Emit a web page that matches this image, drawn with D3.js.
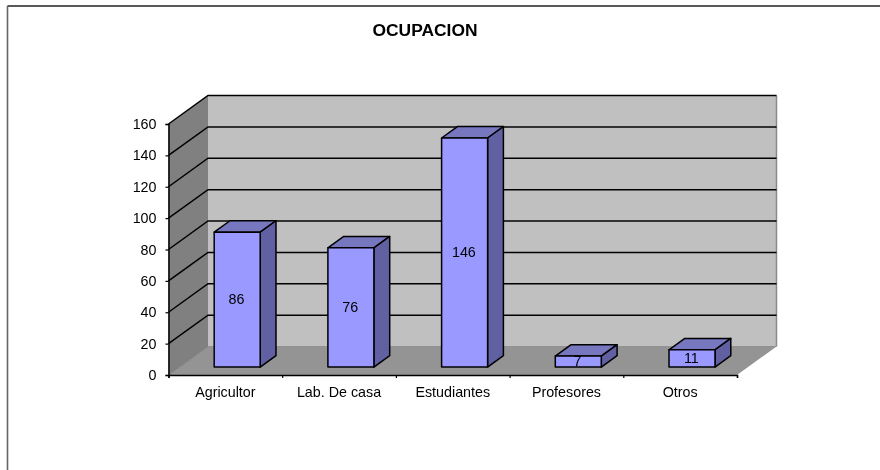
<!DOCTYPE html>
<html><head><meta charset="utf-8">
<script src="https://cdn.jsdelivr.net/npm/d3@7"></script>
<style>html,body{margin:0;padding:0;background:#fff}svg{display:block}text{font-family:"Liberation Sans",Arial,sans-serif;fill:#000}</style>
</head><body><svg id="c" width="880" height="470"></svg>
<script>
const title = "OCUPACION";
const categories = ["Agricultor","Lab. De casa","Estudiantes","Profesores","Otros"];
const values = [86,76,146,7,11];
const yTicks = [0,20,40,60,80,100,120,140,160];

const root = d3.select("#c");
root.append("defs").append("filter").attr("id","soft").attr("filterUnits","userSpaceOnUse")
  .attr("x",0).attr("y",0).attr("width",880).attr("height",470)
  .append("feGaussianBlur").attr("stdDeviation",0.35);
const svg = root.append("g").attr("filter","url(#soft)");
const left=168.5,right=737,y0=375,y160=124,odx=39.5,ody=-28.5;
const x = d3.scaleBand().domain(categories).range([left,right]);
const y = d3.scaleLinear().domain([0,160]).range([y0,y160]);
const line = d3.line();
const poly=(pts,fill,stroke,w)=>svg.append("path").attr("d",line(pts)+"Z").attr("fill",fill).attr("stroke",stroke||"none").attr("stroke-width",w||0).attr("stroke-linejoin","round");

// frame
svg.append("line").attr("x1",7.5).attr("x2",880).attr("y1",6).attr("y2",6).attr("stroke","#222").attr("stroke-width",1.5);
svg.append("line").attr("x1",7.5).attr("x2",7.5).attr("y1",6).attr("y2",470).attr("stroke","#666").attr("stroke-width",1.6);

svg.append("text").attr("x",425).attr("y",36).attr("text-anchor","middle").attr("font-size",17.4).attr("font-weight","bold").text(title);

// walls
poly([[left,y0],[left+odx,y0+ody],[left+odx,y160+ody],[left,y160]],"#808080");
poly([[left+odx,y0+ody],[right+odx,y0+ody],[right+odx,y160+ody],[left+odx,y160+ody]],"#c0c0c0");
poly([[left,y0],[right,y0],[right+odx,y0+ody],[left+odx,y0+ody]],"#949494");
svg.append("path").attr("d",line([[right+odx,y160+ody],[right+odx,y0+ody]])).attr("stroke","#8a8a8a").attr("stroke-width",1.5);
svg.append("path").attr("d",line([[left,y0],[left+odx,y0+ody]])).attr("stroke","#777").attr("stroke-width",.8);
svg.append("path").attr("d",line([[left+odx,y0+ody],[right+odx,y0+ody]])).attr("stroke","#888").attr("stroke-width",.8);

// gridlines
yTicks.filter(d=>d>0).forEach(d=>{
  svg.append("path").attr("fill","none").attr("stroke","#000").attr("stroke-width",1.5)
    .attr("d",line([[left,y(d)],[left+odx,y(d)+ody],[right+odx,y(d)+ody]]));
});

// axes
const yAxis=d3.axisLeft(y).tickValues(yTicks).tickSize(3).tickPadding(9);
const gy=svg.append("g").attr("transform",`translate(${left},0)`).call(yAxis);
const xs=d3.scaleLinear().domain([0,categories.length]).range([left,right]);
const xAxis=d3.axisBottom(xs).tickValues(d3.range(categories.length+1)).tickSize(3).tickFormat("");
const gx=svg.append("g").attr("transform",`translate(0,${y0})`).call(xAxis);
[gy,gx].forEach(g=>{g.selectAll("path").attr("stroke","#000").attr("stroke-width",1.5);g.selectAll("line").attr("stroke","#000").attr("stroke-width",1.2);});
gy.selectAll("text").attr("font-size",14.3).attr("font-family",'"Liberation Sans",Arial,sans-serif');
categories.forEach(c=>svg.append("text").attr("x",x(c)+x.bandwidth()/2).attr("y",397).attr("text-anchor","middle").attr("font-size",14.3).text(c));

// bars
const barW=46, zFront=.3, zBack=.7;
categories.forEach((c,i)=>{
  const v=values[i];
  const cx=x(c)+x.bandwidth()/2+odx*zFront, dy=ody*zFront+0.6;
  const xl=cx-barW/2,xr=cx+barW/2,top=y(v)+dy,bot=y(0)+dy;
  const ddx=odx*(zBack-zFront),ddy=ody*(zBack-zFront);
  const st="#000",sw=1.5;
  poly([[xl,top],[xr,top],[xr+ddx,top+ddy],[xl+ddx,top+ddy]],"#7777bf",st,sw);
  poly([[xr,top],[xr+ddx,top+ddy],[xr+ddx,bot+ddy],[xr,bot]],"#6161a3",st,sw);
  poly([[xl,top],[xr,top],[xr,bot],[xl,bot]],"#9999ff",st,sw);
  svg.append("text").attr("x",cx-0.7).attr("y",(top+bot)/2+4.2).attr("text-anchor","middle").attr("font-size",14.3).text(v);
});
</script></body></html>
